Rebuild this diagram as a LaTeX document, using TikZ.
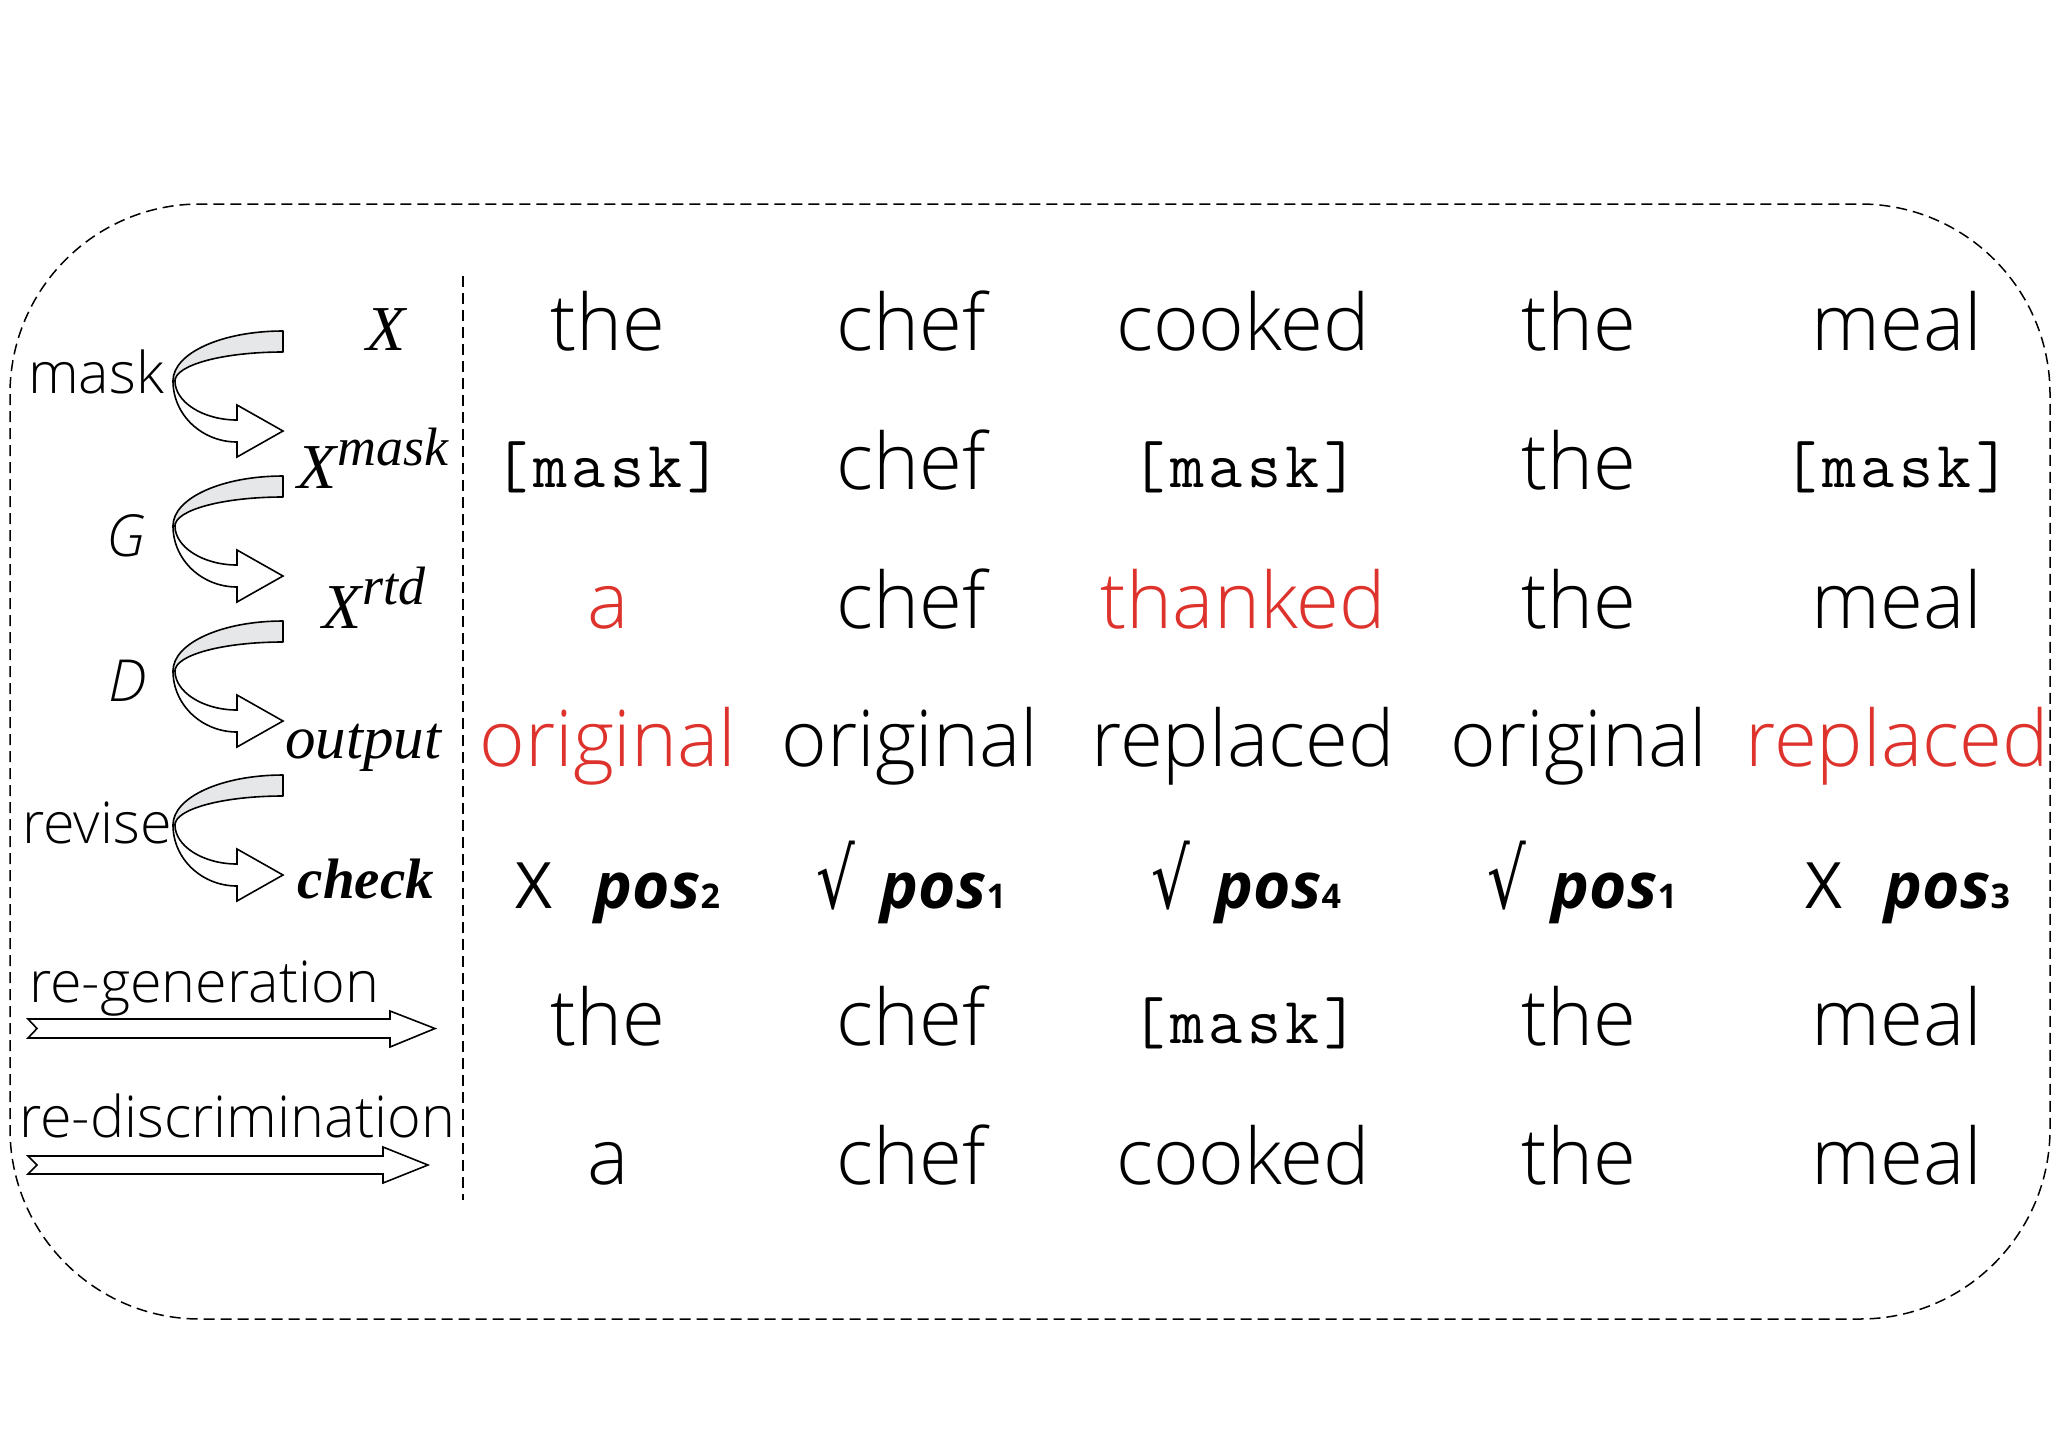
\documentclass[tikz,border=0pt]{standalone}
\usepackage{fontspec}
\setmainfont{Open Sans}
\IfFontExistsTF{Open Sans Light}{\newfontfamily\lightfont{Open Sans Light}}{\newfontfamily\lightfont{Open Sans}}
\IfFontExistsTF{Open Sans Light Italic}{\newfontfamily\lightitfont{Open Sans Light Italic}}{\newfontfamily\lightitfont{Open Sans Italic}}
\newfontfamily\serifit{Liberation Serif}
\newfontfamily\symfont{DejaVu Sans}
\newfontfamily\tokfont{Latin Modern Mono}[LetterSpace=7]
\definecolor{tokred}{RGB}{222,50,44}
\definecolor{bandgray}{RGB}{230,231,232}
\tikzset{
  word/.style={anchor=base, inner sep=0pt, font=\lightfont\fontsize{78}{80}\selectfont},
  redword/.style={word, text=tokred},
  tok/.style={anchor=base, inner sep=0pt, font=\tokfont\fontsize{66}{66}\selectfont},
  lbl/.style={anchor=base, inner sep=0pt, font=\lightfont\fontsize{57.5}{58}\selectfont},
  ilbl/.style={anchor=base, inner sep=0pt, font=\lightitfont\fontsize{58}{58}\selectfont},
  mlbl/.style={anchor=base, inner sep=0pt, font=\serifit\fontsize{64}{64}\selectfont\itshape},
  chk/.style={anchor=base, inner sep=0pt, font=\fontsize{64}{64}\selectfont},
  dashline/.style={dash pattern=on 11pt off 6pt, line width=1.5pt},
  band/.style={fill=bandgray, draw=black, line width=1.6pt, line join=round},
  front/.style={fill=white, draw=black, line width=1.6pt, line join=miter},
}
\newcommand{\posmark}[1]{{\bfseries\itshape pos{\upshape\fontsize{34}{34}\selectfont #1}}}
\newcommand{\xmark}{X\hspace{42pt}}
\newcommand{\okmark}{\scalebox{0.95}[1.3]{\symfont √}\hspace{26pt}}
\begin{document}
\begin{tikzpicture}[x=1pt,y=-1pt]
\useasboundingbox (0,0) rectangle (2064,1438);
% frame
\draw[dashline, rounded corners=190pt] (10,204) rectangle (2050,1319);
\coordinate (septop) at (463,276);
\coordinate (sepbot) at (463,1200);
\draw[dashline] (septop) -- (sepbot);

% curved arrows
\foreach \T in {331,476,621,775}{
  \draw[band] (283,\T) .. controls (222,\T) and (173,\T+22) .. (173,\T+50)
     -- (175,\T+50) .. controls (175,\T+34) and (223,\T+21) .. (283,\T+21) -- cycle;
  \draw[front] (175,\T+50) .. controls (175,\T+71) and (203,\T+89) .. (237,\T+89)
     -- (237,\T+74) -- (283,\T+100) -- (237,\T+126) -- (237,\T+111)
     .. controls (202,\T+111) and (173,\T+84) .. (173,\T+50) -- cycle;
}
% straight block arrows
\draw[front] (28,1019) -- (390,1019) -- (390,1011) -- (435,1028.5) -- (390,1047)
  -- (390,1038) -- (28,1038) -- (37,1028.5) -- cycle;
\draw[front] (28,1156) -- (383,1156) -- (383,1147) -- (428,1165) -- (383,1183)
  -- (383,1174) -- (28,1174) -- (37,1165) -- cycle;

% left labels
\node[lbl] (lmask) at (96,393) {mask};
\node[ilbl] (lG) at (126,556) {G};
\node[ilbl] (lD) at (128,701) {D};
\node[lbl] (lrevise) at (97,843) {revise};
\node[lbl] (lregen) at (204,1002) {re-generation};
\node[lbl] (lredisc) at (237,1137) {re-discrimination};

\node[mlbl] (lX) at (386,350) {X};
\node[mlbl] (lXmask) at (373,488) {X\raisebox{23pt}{\fontsize{54}{54}\selectfont mask}};
\node[mlbl] (lXrtd) at (374,628) {X\raisebox{24pt}{\fontsize{54}{54}\selectfont rtd}};
\node[mlbl, font=\serifit\fontsize{61}{61}\selectfont\itshape] (lout) at (363,758) {output};
\node[mlbl, font=\serifit\fontsize{57}{57}\selectfont\bfseries\itshape] (lcheck) at (366,898) {check};

% row 1
\node[word] (r1c1) at (608,350) {the};
\node[word] (r1c2) at (911,350) {chef};
\node[word] (r1c3) at (1243,350) {cooked};
\node[word] (r1c4) at (1579,350) {the};
\node[word] (r1c5) at (1897,350) {meal};
% row 2
\node[tok] (r2c1) at (608,487) {[mask]};
\node[word] (r2c2) at (911,489) {chef};
\node[tok] (r2c3) at (1245,487) {[mask]};
\node[word] (r2c4) at (1579,489) {the};
\node[tok] (r2c5) at (1897,487) {[mask]};
% row 3
\node[redword] (r3c1) at (608,628) {a};
\node[word] (r3c2) at (911,628) {chef};
\node[redword] (r3c3) at (1243,628) {thanked};
\node[word] (r3c4) at (1579,628) {the};
\node[word] (r3c5) at (1897,628) {meal};
% row 4
\node[redword] (r4c1) at (608,766) {original};
\node[word] (r4c2) at (910,766) {original};
\node[word] (r4c3) at (1243,766) {replaced};
\node[word] (r4c4) at (1579,766) {original};
\node[redword] (r4c5) at (1897,766) {replaced};
% row 5
\node[chk] (r5c1) at (618,908) {\xmark\posmark{2}};
\node[chk] (r5c2) at (911,908) {\okmark\posmark{1}};
\node[chk] (r5c3) at (1246,908) {\okmark\posmark{4}};
\node[chk] (r5c4) at (1582,908) {\okmark\posmark{1}};
\node[chk] (r5c5) at (1908,908) {\xmark\posmark{3}};
% row 6
\node[word] (r6c1) at (608,1045) {the};
\node[word] (r6c2) at (911,1045) {chef};
\node[tok] (r6c3) at (1245,1043) {[mask]};
\node[word] (r6c4) at (1579,1045) {the};
\node[word] (r6c5) at (1897,1045) {meal};
% row 7
\node[word] (r7c1) at (608,1184) {a};
\node[word] (r7c2) at (911,1184) {chef};
\node[word] (r7c3) at (1243,1184) {cooked};
\node[word] (r7c4) at (1579,1184) {the};
\node[word] (r7c5) at (1897,1184) {meal};
\end{tikzpicture}
\end{document}
